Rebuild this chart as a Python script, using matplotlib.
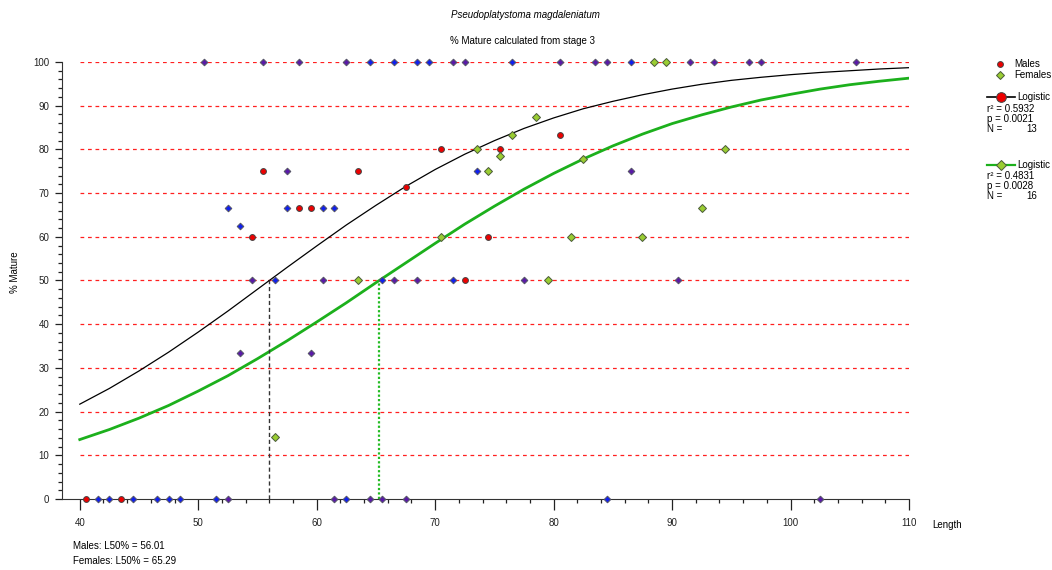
import numpy as np
import matplotlib.pyplot as plt
from matplotlib.lines import Line2D

plt.close('all')
plt.rcParams['font.family'] = ['Liberation Sans', 'DejaVu Sans']
plt.rcParams['font.size'] = 7

############ Data ####################
# males (red circles)
male_x = [40.5, 43.5, 54.5, 55.5, 58.5, 59.5, 63.5, 67.5, 70.5, 72.5, 74.5, 75.5, 80.5]
male_y = [0, 0, 60, 75, 66.67, 66.67, 75, 71.43, 80, 50, 60, 80, 83.33]

# females (green diamonds)
female_x = [56.5, 63.5, 70.5, 73.5, 74.5, 75.5, 76.5, 78.5, 79.5, 81.5, 82.5, 87.5,
            88.5, 89.5, 92.5, 94.5]
female_y = [14.29, 50, 60, 80, 75, 78.57, 83.33, 87.5, 50, 60, 77.78, 60,
            100, 100, 66.67, 80]

# other classes drawn in blue
blue_x = [64.5, 66.5, 68.5, 69.5, 76.5, 86.5, 52.5, 57.5, 60.5, 61.5, 53.5, 73.5,
          56.5, 65.5, 71.5, 41.5, 42.5, 44.5, 46.5, 47.5, 48.5, 51.5, 62.5, 84.5]
blue_y = [100, 100, 100, 100, 100, 100, 66.67, 66.67, 66.67, 66.67, 62.5, 75,
          50, 50, 50, 0, 0, 0, 0, 0, 0, 0, 0, 0]

# overlapping classes drawn in purple
purple_x = [50.5, 55.5, 58.5, 62.5, 71.5, 72.5, 80.5, 83.5, 84.5, 91.5, 93.5, 96.5,
            97.5, 105.5, 57.5, 86.5, 54.5, 60.5, 66.5, 68.5, 77.5, 90.5, 53.5, 59.5,
            52.5, 61.5, 64.5, 65.5, 67.5, 102.5]
purple_y = [100, 100, 100, 100, 100, 100, 100, 100, 100, 100, 100, 100,
            100, 100, 75, 75, 50, 50, 50, 50, 50, 50, 33.33, 33.33,
            0, 0, 0, 0, 0, 0]

# logistic curves
curve_x = [40, 42.5, 45, 47.5, 50, 52.5, 55, 57.5, 60, 62.5, 65, 67.5, 70, 72.5, 75,
           77.5, 80, 82.5, 85, 87.5, 90, 92.5, 95, 97.5, 100, 102.5, 105, 107.5, 110]
male_curve = [21.7, 25.3, 29.3, 33.6, 38.2, 43.0, 48.0, 53.0, 57.9, 62.7, 67.2, 71.5, 75.4, 78.9, 82.0,
              84.8, 87.2, 89.3, 91.0, 92.5, 93.8, 94.9, 95.8, 96.5, 97.1, 97.6, 98.0, 98.4, 98.7]
female_curve = [13.6, 15.9, 18.5, 21.4, 24.7, 28.2, 32.1, 36.2, 40.5, 44.9, 49.5, 54.0, 58.5, 62.9, 67.0,
                70.9, 74.5, 77.8, 80.8, 83.5, 85.9, 87.9, 89.7, 91.3, 92.6, 93.8, 94.8, 95.6, 96.3]

male_l50 = 56.01
female_l50 = 65.29

x_ticks = [40, 50, 60, 70, 80, 90, 100, 110]
y_ticks = [0, 10, 20, 30, 40, 50, 60, 70, 80, 90, 100]
grid_levels = [10, 20, 30, 40, 50, 60, 70, 80, 90, 100]

############ Figure ####################
W, H = 1052, 570
fig = plt.figure(figsize=(W / 100, H / 100), dpi=100)
ax = fig.add_axes([62 / W, 71 / H, 847 / W, 437 / H])

def fx(px):
    return px / W

def fy(py):
    return 1 - py / H

# grid lines
ax.hlines(grid_levels, 40, 110, colors='#ff2020', linestyles=(0, (3, 3)), lw=0.9, zorder=1)

# curves
ax.plot(curve_x, male_curve, color='black', lw=0.9, zorder=2)
ax.plot(curve_x, female_curve, color='#1cb01c', lw=2, zorder=2)

# L50 drop lines
ax.plot([male_l50, male_l50], [0, 50], color='#333333', lw=1, ls=(0, (3, 2)), zorder=2)
ax.plot([female_l50, female_l50], [0, 50], color='#22bb22', lw=1.6, ls=(0, (1, 1)), zorder=2)

# points
ax.plot(male_x, male_y, 'o', ms=4.2, mfc='#ee0000', mec='#444444', mew=0.7, clip_on=False, zorder=4)
ax.plot(female_x, female_y, 'D', ms=4.0, mfc='#9acd32', mec='#4a5a3a', mew=0.7, clip_on=False, zorder=4)
ax.plot(blue_x, blue_y, 'D', ms=3.4, mfc='#1020ee', mec='#555566', mew=0.7, clip_on=False, zorder=4)
ax.plot(purple_x, purple_y, 'D', ms=3.4, mfc='#5a1aa8', mec='#555566', mew=0.7, clip_on=False, zorder=4)

############ Axes ####################
ax.set_xlim(38.5, 110)
ax.set_ylim(0, 100)
ax.spines['top'].set_visible(False)
ax.spines['right'].set_visible(False)
ax.spines['left'].set_color('#333333')
ax.spines['bottom'].set_color('#333333')

ax.set_xticks(x_ticks)
ax.set_xticks(np.arange(42, 110, 2), minor=True)
ax.set_yticks(y_ticks)
ax.set_yticks(np.arange(0, 101, 2), minor=True)
ax.tick_params(axis='x', which='major', length=8, width=0.9, pad=6, colors='#222222')
ax.tick_params(axis='x', which='minor', length=3, width=0.9, colors='#222222')
ax.tick_params(axis='y', which='major', length=5, width=0.9, pad=4, colors='#222222')
ax.tick_params(axis='y', which='minor', length=3, width=0.9, colors='#222222')

############ Texts ####################
fig.text(fx(525), fy(15), 'Pseudoplatystoma magdaleniatum', ha='center', va='center', style='italic')
fig.text(fx(522), fy(41), '% Mature calculated from stage 3', ha='center', va='center')
fig.text(fx(15), fy(272), '% Mature', ha='center', va='center', rotation=90)
fig.text(fx(932), fy(525), 'Length', ha='left', va='center')
fig.text(fx(73), fy(546), 'Males: L50% = {:.2f}'.format(male_l50), ha='left', va='center')
fig.text(fx(73), fy(561), 'Females: L50% = {:.2f}'.format(female_l50), ha='left', va='center')

############ Legend ####################
fig.add_artist(Line2D([fx(1000)], [fy(64)], marker='o', ms=4.2, mfc='#ee0000', mec='#444444', mew=0.7))
fig.text(fx(1014), fy(64), 'Males', va='center')
fig.add_artist(Line2D([fx(1000)], [fy(75)], marker='D', ms=4.0, mfc='#9acd32', mec='#4a5a3a', mew=0.7))
fig.text(fx(1014), fy(75), 'Females', va='center')

fig.add_artist(Line2D([fx(987), fx(1015)], [fy(97), fy(97)], color='black', lw=1.2))
fig.add_artist(Line2D([fx(1001)], [fy(97)], marker='o', ms=7, mfc='#ee0000', mec='#444444', mew=0.7))
fig.text(fx(1017), fy(97), 'Logistic', va='center')
fig.text(fx(987), fy(109), 'r² = 0.5932', va='center')
fig.text(fx(987), fy(119.5), 'p = 0.0021', va='center')
fig.text(fx(987), fy(129.5), 'N =', va='center')
fig.text(fx(1037), fy(129.5), '13', va='center', ha='right')

fig.add_artist(Line2D([fx(987), fx(1015)], [fy(165), fy(165)], color='#1cb01c', lw=1.6))
fig.add_artist(Line2D([fx(1001)], [fy(165)], marker='D', ms=5.5, mfc='#9acd32', mec='#4a5a3a', mew=0.7))
fig.text(fx(1017), fy(165), 'Logistic', va='center')
fig.text(fx(987), fy(176), 'r² = 0.4831', va='center')
fig.text(fx(987), fy(186), 'p = 0.0028', va='center')
fig.text(fx(987), fy(196), 'N =', va='center')
fig.text(fx(1037), fy(196), '16', va='center', ha='right')

plt.savefig('out.png', dpi=100)
